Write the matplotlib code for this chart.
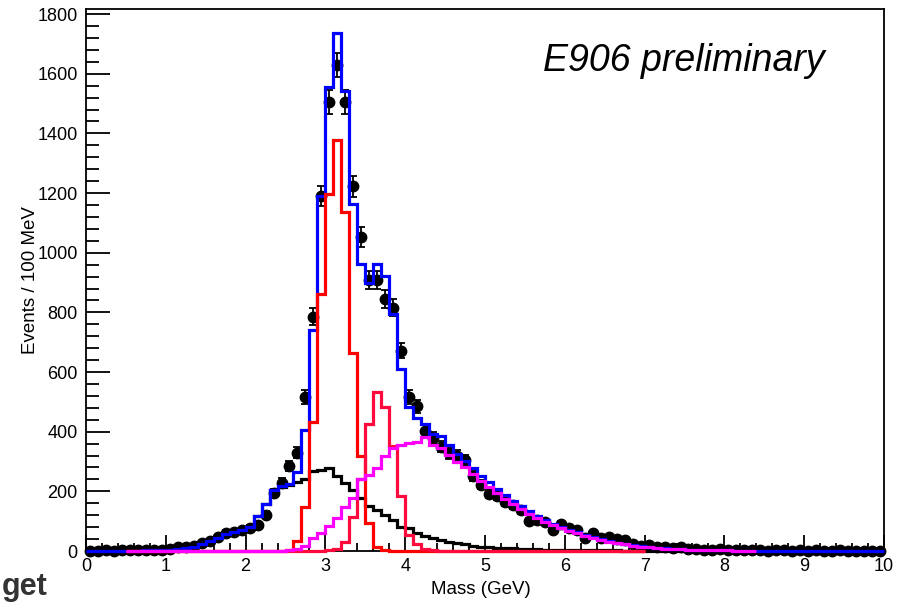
import numpy as np
import matplotlib
matplotlib.use("Agg")
import matplotlib.pyplot as plt
from matplotlib.ticker import MultipleLocator

plt.rcParams['font.family'] = ['Liberation Sans', 'DejaVu Sans']

# dimuon mass spectrum, 100 bins of 100 MeV from 0 to 10 GeV
data_counts = [1, 1, 2, 1, 2, 2, 3, 3, 4, 5,
               8, 12, 15, 18, 27, 33, 48, 62, 64, 70,
               77, 88, 122, 195, 228, 285, 330, 516, 785, 1190,
               1505, 1628, 1505, 1222, 1053, 910, 910, 845, 815, 672,
               516, 485, 403, 380, 350, 328, 320, 305, 252, 222,
               192, 186, 165, 153, 137, 102, 104, 98, 72, 92,
               76, 70, 44, 59, 42, 48, 39, 37, 22, 17,
               20, 15, 12, 10, 14, 8, 7, 5, 4, 6,
               3, 4, 2, 3, 2, 1, 2, 3, 1, 2,
               1, 2, 1, 1, 2, 1, 1, 1, 1, 1]

# combinatoric background (black), 0-10 GeV
bkg_counts = [0, 0, 0, 0, 1, 1, 1, 2, 2, 3,
              4, 6, 9, 14, 22, 33, 45, 56, 64, 70,
              80, 118, 158, 205, 215, 222, 232, 240, 268, 272,
              277, 250, 228, 204, 177, 150, 137, 120, 104, 82,
              76, 60, 50, 43, 37, 31, 26, 22, 18, 15,
              13, 11, 10, 9, 8, 7, 6, 5, 4, 4,
              3, 3, 3, 2, 2, 2, 2, 1, 1, 1,
              1, 1, 1, 1, 1, 0, 0, 0, 0, 0] + [0] * 20

# total fit (blue), 0-10 GeV
total_counts = [0, 0, 0, 0, 1, 1, 1, 2, 2, 3,
                4, 6, 9, 14, 22, 33, 45, 56, 64, 70,
                80, 118, 158, 205, 217, 226, 265, 406, 741, 1190,
                1557, 1735, 1543, 1163, 961, 897, 961, 923, 793, 609,
                484, 446, 426, 392, 385, 355, 326, 303, 278, 253,
                230, 208, 187, 168, 150, 133, 118, 104, 92, 81,
                72, 63, 54, 47, 40, 33, 28, 23, 19, 16,
                13, 11, 9, 8, 6, 5, 4, 4, 3, 2,
                2, 1, 1, 1, 0, 0, 0, 0, 0, 0] + [0] * 10

# J/psi (red), 0.5-7.0 GeV
jpsi_counts = [0] * 19 + [1, 4, 32, 149, 433, 860, 1198, 1378, 1137, 665,
                          320, 93, 14, 4, 1] + [0] * 31

# psi' (crimson), 0.5-7.0 GeV
psip_counts = [0] * 25 + [2, 8, 30, 115, 240, 425, 534, 484, 352, 185,
                          55, 25, 8, 3, 1] + [0] * 25

# Drell-Yan continuum (magenta), 0.5-8.4 GeV
dy_counts = [0] * 19 + [1, 3, 8, 18, 43, 62, 85, 110, 148, 178,
                        240, 255, 278, 320, 346, 355, 361, 367, 383, 355,
                        345, 322, 298, 280, 258, 236, 215, 195, 175, 158,
                        141, 125, 111, 98, 87, 77, 68, 59, 51, 44,
                        37, 31, 26, 22, 18, 15, 12, 10, 8, 7,
                        6, 5, 4, 3, 3, 2, 2, 1, 1, 1]

edges = np.linspace(0, 10, 101)
centers = 0.5 * (edges[1:] + edges[:-1])
data = np.array(data_counts, dtype=float)

fig = plt.figure(figsize=(9.04, 6.02), dpi=100)
ax = fig.add_axes([86 / 904, 1 - 551 / 602, 798 / 904, 542 / 602])

ax.errorbar(centers, data, yerr=np.sqrt(data), fmt='o', color='black',
            ms=7.5, elinewidth=1.3, capsize=2.8, capthick=1.3,
            clip_on=False, zorder=2)

lw = 2.3
ax.stairs(bkg_counts, edges, color='black', lw=lw, zorder=3, clip_on=False)
ax.stairs(total_counts, edges, color='#0000ff', lw=lw, zorder=4, clip_on=False)
ax.stairs(jpsi_counts, edges[5:71], color='#ff0000', lw=lw, zorder=5, clip_on=False)
ax.stairs(psip_counts, edges[5:71], color='#ff0a3c', lw=lw, zorder=6, clip_on=False)
ax.stairs(dy_counts, edges[5:85], color='#ff00ff', lw=lw, zorder=7, clip_on=False)

ax.set_xlim(0, 10)
ax.set_ylim(0, 1817)
ax.xaxis.set_major_locator(MultipleLocator(1))
ax.xaxis.set_minor_locator(MultipleLocator(0.2))
ax.yaxis.set_major_locator(MultipleLocator(200))
ax.yaxis.set_minor_locator(MultipleLocator(40))
ax.tick_params(axis='both', which='both', direction='in', width=1.3,
               labelsize=13, top=False, right=False)
ax.tick_params(axis='x', which='major', length=11.5, pad=5)
ax.tick_params(axis='x', which='minor', length=5.8)
ax.tick_params(axis='y', which='major', length=17, pad=6)
ax.tick_params(axis='y', which='minor', length=9.4)
for s in ax.spines.values():
    s.set_linewidth(1.3)

fig.text(31 / 904, 1 - 280 / 602, 'Events / 100 MeV', rotation=90,
         ha='center', va='center', fontsize=13.5)
fig.text(481 / 904, 1 - 590 / 602, 'Mass (GeV)', ha='center', va='center',
         fontsize=13.5)
fig.text(543 / 904, 1 - 71 / 602, 'E906 preliminary', style='italic',
         fontsize=27, va='baseline')
fig.text(2 / 904, 1 - 595 / 602, 'get', fontsize=22, fontweight='bold',
         color='#333333', va='baseline')

fig.savefig('out.png', dpi=100)
